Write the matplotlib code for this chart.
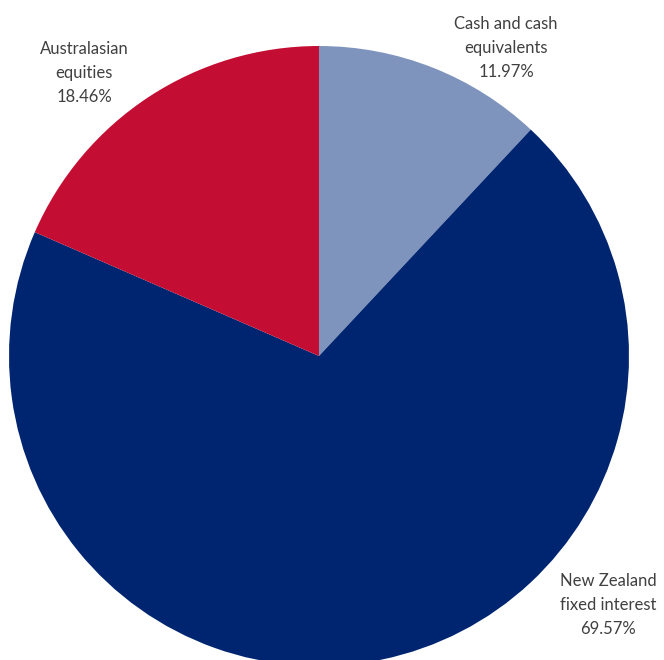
import matplotlib
matplotlib.use("Agg")
import matplotlib.pyplot as plt

# Datos del gráfico
categories = ["Cash and cash\nequivalents", "New Zealand\nfixed interest", "Australasian\nequities"]
shares = [11.97, 69.57, 18.46]
colors = ["#7F94BD", "#002570", "#C40D32"]

W, H = 664, 660
fig = plt.figure(figsize=(W / 100, H / 100), dpi=100)
ax = fig.add_axes([0, 0, 1, 1])

# Pastel con inicio arriba y en sentido horario
ax.pie(shares, colors=colors, startangle=90, counterclock=False,
       center=(319, H - 356), radius=310, frame=True,
       wedgeprops=dict(linewidth=0))
ax.set_xlim(0, W)
ax.set_ylim(0, H)
ax.set_aspect("equal")
ax.axis("off")

# Etiquetas
label_pos = [(506, H - 48), (608, H - 605), (84, H - 73)]
for cat, val, (x, y) in zip(categories, shares, label_pos):
    ax.text(x, y, f"{cat}\n{val:.2f}%", ha="center", va="center",
            fontsize=12, family="Lato", color="#404040", linespacing=1.6)

fig.savefig("out.png", dpi=100)
